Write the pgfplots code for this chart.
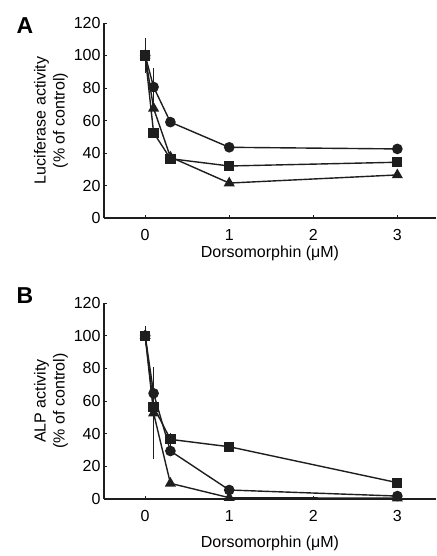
\documentclass[border=0pt]{standalone}
\usepackage{fontspec}
\setmainfont{Liberation Sans}
\usepackage{pgfplots}
\pgfplotsset{compat=1.18}
\definecolor{ink}{HTML}{1E1E1E}
\pgfplotsset{
  panel/.style={
    scale only axis, width=332pt,
    axis lines=left, axis line style={-, line width=1.2pt, ink},
    xmin=-0.49, xmax=3.46, ymin=0, ymax=120,
    xtick={0,1,2,3}, ytick={0,20,...,120},
    tick align=inside, major tick length=3pt,
    tick style={line width=0.9pt, ink},
    /pgf/number format/assume math mode=true,
    font=\fontsize{16}{19}\selectfont,
    xticklabel style={yshift=-8pt},
    ylabel style={at={(axis description cs:-0.16,0.5)}, anchor=center, align=center, rotate=0},
  },
  ser/.style={draw=ink, line width=1.4pt, mark options={solid, fill=ink, draw=ink},
    error bars/y dir=both, error bars/y explicit, error bars/error mark=none,
    error bars/error bar style={line width=0.9pt, ink}},
  circ/.style={ser, mark=*, mark size=4.6pt},
  sq/.style={ser, mark=square*, mark size=4.4pt},
  tri/.style={ser, mark=triangle*, mark size=5pt},
}
\begin{document}
\begin{tikzpicture}
\path[use as bounding box] (0,0) rectangle (436pt,556pt);
\node[font=\fontsize{23}{23}\selectfont\bfseries] at (25pt,530pt) {A};
\node[font=\fontsize{23}{23}\selectfont\bfseries] at (25pt,260pt) {B};
% Panel A
\begin{axis}[panel, at={(104pt,338pt)}, anchor=south west, height=195pt,
  xlabel={Dorsomorphin (μM)},
  xlabel style={at={(axis description cs:0.5,-0.18)}, anchor=center},
  ylabel={Luciferase activity\\(\% of control)}]
\addplot[circ] coordinates {(0,100) +- (0,10.5) (0.1,80.6) +- (0,11.5) (0.3,59) +- (0,0) (1,43.5) +- (0,0) (3,42.5) +- (0,0)};
\addplot[sq] coordinates {(0,100) +- (0,0) (0.1,52.5) +- (0,0) (0.3,36.5) +- (0,0) (1,32) +- (0,2) (3,34.3) +- (0,0)};
\addplot[tri] coordinates {(0,100) +- (0,0) (0.1,67.5) +- (0,0) (0.3,37.5) +- (0,0) (1,21.5) +- (0,0) (3,26.5) +- (0,0)};
\end{axis}
% Panel B
\begin{axis}[panel, at={(104pt,57pt)}, anchor=south west, height=196pt,
  xlabel={Dorsomorphin (μM)},
  xlabel style={at={(axis description cs:0.5,-0.224)}, anchor=center},
  ylabel={ALP activity\\(\% of control)}]
\addplot[circ] coordinates {(0,100) +- (0,6) (0.1,64.7) +- (0,0) (0.3,29.4) +- (0,0) (1,5.5) +- (0,0) (3,1.8) +- (0,0)};
\addplot[tri] coordinates {(0,100) +- (0,0) (0.1,52.6) +- (0,28) (0.3,9.6) +- (0,0) (1,0.8) +- (0,0) (3,0.5) +- (0,0)};
\addplot[sq] coordinates {(0,100) +- (0,0) (0.1,56.5) +- (0,0) (0.3,36.5) +- (0,4) (1,32) +- (0,0) (3,10) +- (0,0)};
\end{axis}
\end{tikzpicture}
\end{document}
